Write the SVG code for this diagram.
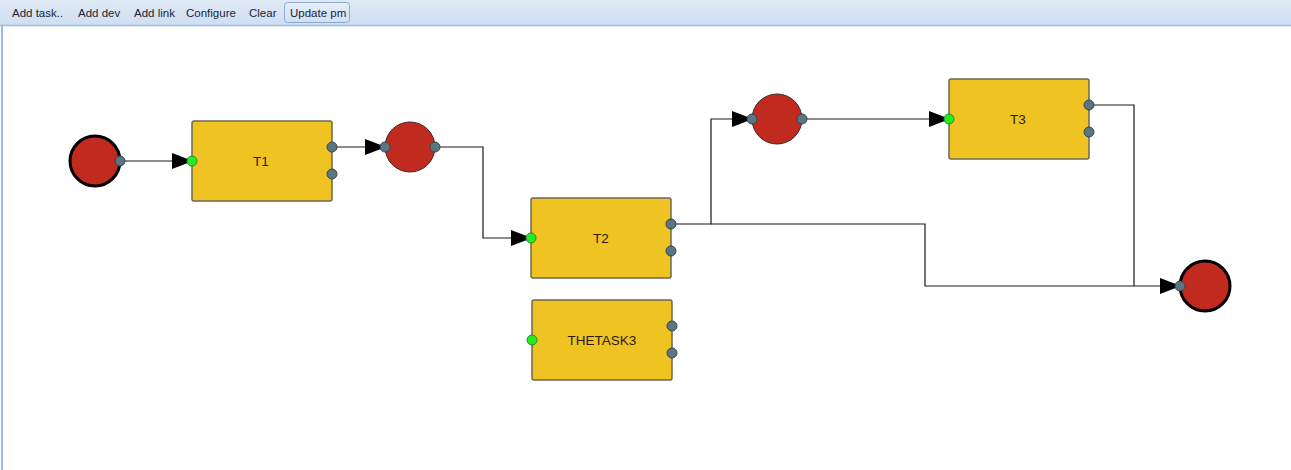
<svg xmlns="http://www.w3.org/2000/svg" width="1291" height="470" viewBox="0 0 1291 470">
<defs>
<linearGradient id="tb" x1="0" y1="0" x2="0" y2="1">
<stop offset="0" stop-color="#dfe9f6"/>
<stop offset="1" stop-color="#cfdef1"/>
</linearGradient>
<linearGradient id="btn" x1="0" y1="0" x2="0" y2="1">
<stop offset="0" stop-color="#e6effb"/>
<stop offset="1" stop-color="#cfdff4"/>
</linearGradient>
<marker id="arr" markerWidth="21" markerHeight="16" refX="20" refY="8" orient="auto" markerUnits="userSpaceOnUse">
<path d="M0,0 L21,8 L0,16 Z" fill="#000"/>
</marker>
</defs>
<style>
.tbt{font-family:"Liberation Sans",Arial,sans-serif;font-size:11.5px;fill:#1a2636}
.task{fill:#eec322;stroke:#6e6850;stroke-width:1.5}
.lbl{font-family:"Liberation Sans",Arial,sans-serif;font-size:13.5px;fill:#2a1a10;text-anchor:middle;dominant-baseline:central}
.ev{fill:#c12a1e;stroke:#000;stroke-width:3}
.mid{fill:#c12a1e;stroke:#3a2a2a;stroke-width:1}
.pg{fill:#5b7682;stroke:#34474f;stroke-width:1}
.pin{fill:#22ee22;stroke:#2a8a2a;stroke-width:1}
.c{fill:none;stroke:#1a1a1a;stroke-width:1.2}
.ca{fill:none;stroke:#1a1a1a;stroke-width:1.2;marker-end:url(#arr)}
</style>
<rect x="0" y="0" width="1291" height="470" fill="#fff"/>
<g id="toolbar">
<rect x="0" y="0" width="1291" height="25" fill="url(#tb)"/>
<line x1="0" y1="25.5" x2="1291" y2="25.5" stroke="#99bbe8" stroke-width="1.5"/>
<line x1="2" y1="26" x2="2" y2="470" stroke="#99bbe8" stroke-width="2"/>
<rect x="284.5" y="2.5" width="65" height="20" rx="3" fill="url(#btn)" stroke="#8fa9cc" stroke-width="1"/>
<text class="tbt" x="12" y="17">Add task..</text>
<text class="tbt" x="78" y="17">Add dev</text>
<text class="tbt" x="134" y="17">Add link</text>
<text class="tbt" x="186" y="17">Configure</text>
<text class="tbt" x="249" y="17">Clear</text>
<text class="tbt" x="290" y="17">Update pm</text>
</g>
<g id="connectors">
<path class="ca" d="M120,161 L192,161"/>
<path class="ca" d="M332,147 L385,147"/>
<path class="ca" d="M435,147 L483,147 L483,238 L531,238"/>
<path class="ca" d="M671,224 L711,224 L711,119 L752,119"/>
<path class="ca" d="M802,119 L949,119"/>
<path class="ca" d="M711,224 L925,224 L925,286 L1180,286"/>
<path class="c" d="M1089,105 L1134,105 L1134,286"/>
</g>
<g id="start">
<circle class="ev" cx="95" cy="161" r="25"/>
<circle class="pg" cx="120" cy="161" r="5"/>
</g>
<g id="T1">
<rect class="task" x="192" y="121" width="140" height="80" rx="2"/>
<text class="lbl" x="261" y="161">T1</text>
<circle class="pin" cx="192" cy="161" r="5"/>
<circle class="pg" cx="332" cy="147" r="5"/>
<circle class="pg" cx="332" cy="174" r="5"/>
</g>
<g id="ev1">
<circle class="mid" cx="410" cy="147" r="25"/>
<circle class="pg" cx="385" cy="147" r="5"/>
<circle class="pg" cx="435" cy="147" r="5"/>
</g>
<g id="T2">
<rect class="task" x="531" y="198" width="140" height="80" rx="2"/>
<text class="lbl" x="601" y="238">T2</text>
<circle class="pin" cx="531" cy="238" r="5"/>
<circle class="pg" cx="671" cy="224" r="5"/>
<circle class="pg" cx="671" cy="251" r="5"/>
</g>
<g id="THETASK3">
<rect class="task" x="532" y="300" width="140" height="80" rx="2"/>
<text class="lbl" x="602" y="340">THETASK3</text>
<circle class="pin" cx="532" cy="340" r="5"/>
<circle class="pg" cx="672" cy="326" r="5"/>
<circle class="pg" cx="672" cy="353" r="5"/>
</g>
<g id="ev2">
<circle class="mid" cx="777" cy="119" r="25"/>
<circle class="pg" cx="752" cy="119" r="5"/>
<circle class="pg" cx="802" cy="119" r="5"/>
</g>
<g id="T3">
<rect class="task" x="949" y="79" width="140" height="80" rx="2"/>
<text class="lbl" x="1018" y="119">T3</text>
<circle class="pin" cx="949" cy="119" r="5"/>
<circle class="pg" cx="1089" cy="105" r="5"/>
<circle class="pg" cx="1089" cy="132" r="5"/>
</g>
<g id="end">
<circle class="ev" cx="1205" cy="286" r="25"/>
<circle class="pg" cx="1180" cy="286" r="5"/>
</g>
</svg>
